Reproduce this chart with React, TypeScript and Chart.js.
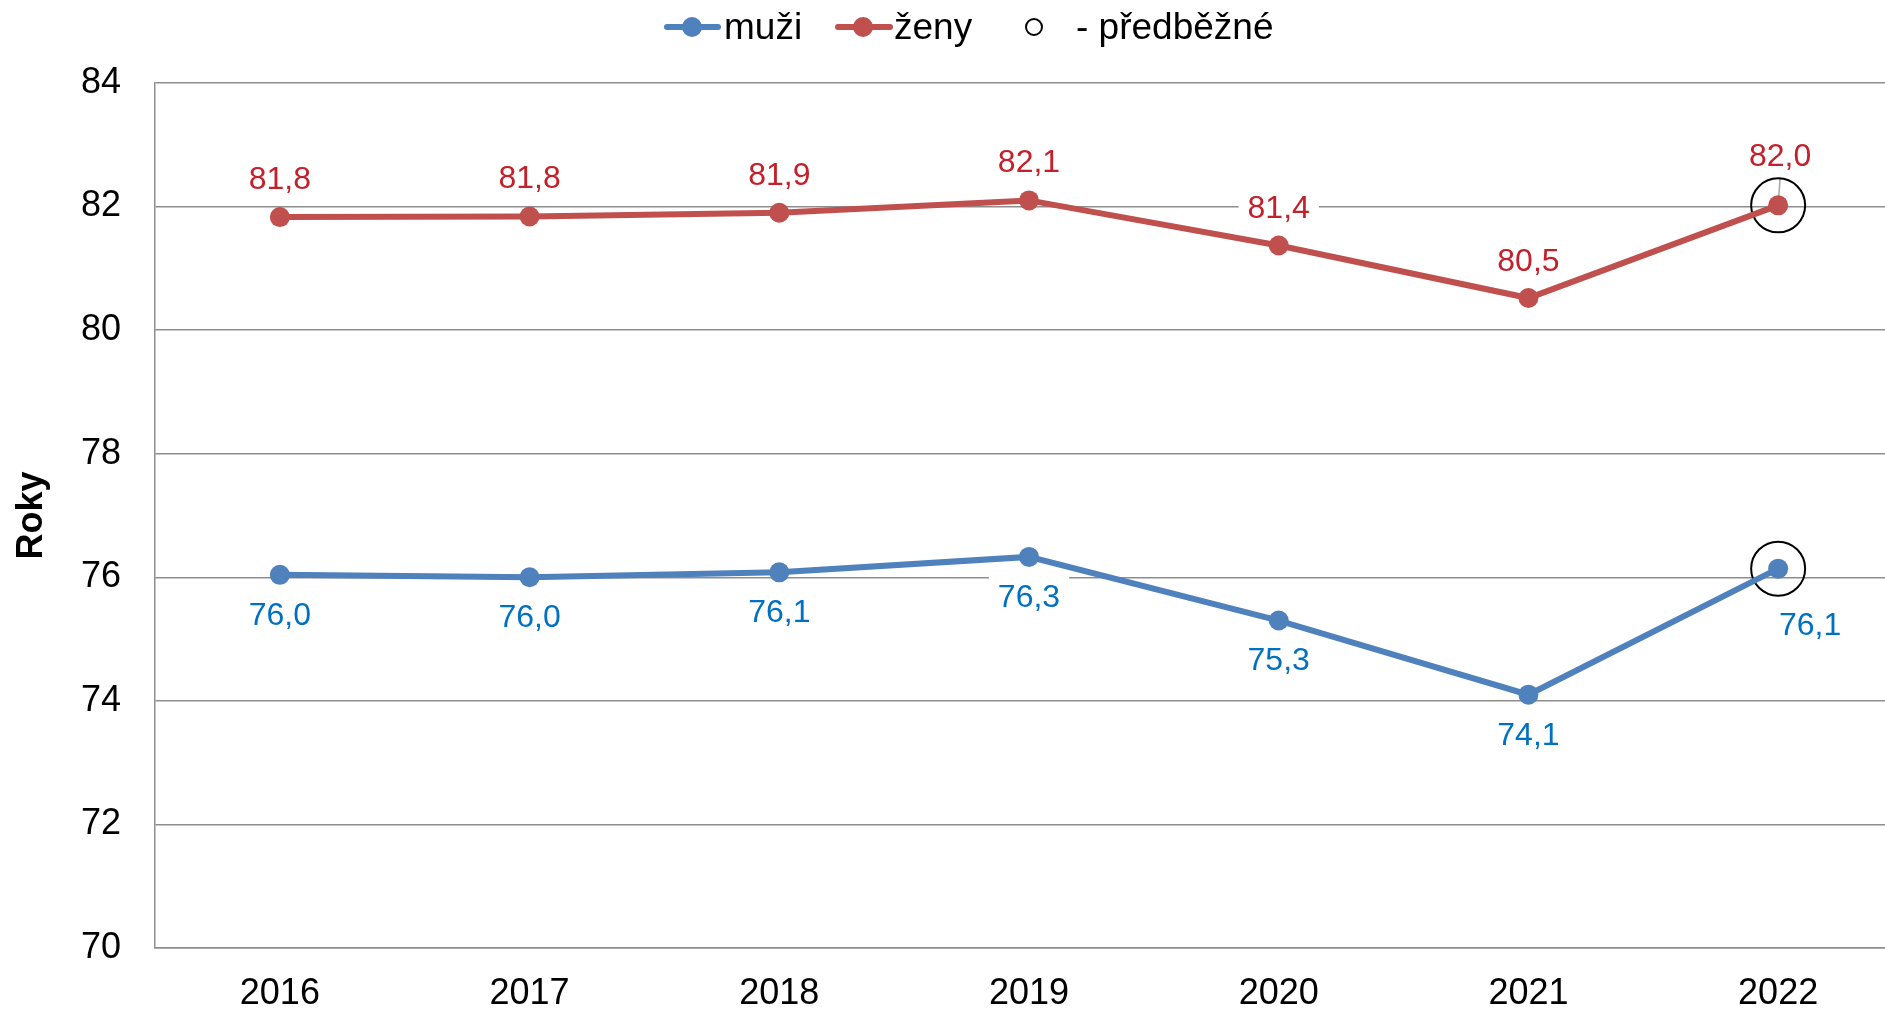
import React, { useEffect, useRef } from 'react';
import { Chart, registerables } from 'chart.js';

Chart.register(...registerables);

// ---- data ----
const years = ['2016', '2017', '2018', '2019', '2020', '2021', '2022'];
const muzi = [76.04, 76.0, 76.08, 76.33, 75.3, 74.1, 76.14];
const zeny = [81.83, 81.84, 81.9, 82.1, 81.37, 80.52, 82.02];
const seriesNames = ['muži', 'ženy'];
const prelimLabel = '- předběžné';
const prelimIndex = 6;
const yMin = 70;
const yMax = 84;
const yStep = 2;
const axisTitle = 'Roky';

// ---- styling ----
const FONT = '"Liberation Sans", Arial, Helvetica, sans-serif';
const BLUE = '#4F81BD';
const RED = '#C0504D';
const BLUE_LABEL = '#0070C0';
const RED_LABEL = '#C3202B';
const GRID = '#8E8E8E';
const CANVAS_W = 1903;
const CANVAS_H = 1009;

// label offsets [dx, dy] per series per point (presentation)
const labelOffsets: number[][][] = [
  [[0, 40], [0, 40], [0, 40], [0, 40], [0, 40], [0, 40], [32, 57]],
  [[0, -38], [0, -38], [0, -38], [0, -38], [0, -37], [0, -37], [2, -49]],
];
const labelColors = [BLUE_LABEL, RED_LABEL];

const fmt = (v: number) => v.toFixed(1).replace('.', ',');

const valueLabelPlugin = {
  id: 'valueLabels',
  beforeDatasetsDraw(chart: any) {
    const ctx = chart.ctx;
    ctx.save();
    ctx.font = `32px ${FONT}`;
    ctx.textAlign = 'center';
    ctx.textBaseline = 'middle';
    [0, 1].forEach((di) => {
      const meta = chart.getDatasetMeta(di);
      const values = chart.data.datasets[di].data as number[];
      meta.data.forEach((pt: any, i: number) => {
        const off = labelOffsets[di][i];
        const x = pt.x + off[0];
        const y = pt.y + off[1];
        const text = fmt(values[i]);
        const w = ctx.measureText(text).width + 18;
        ctx.fillStyle = '#ffffff';
        ctx.fillRect(x - w / 2, y - 23, w, 46);
        if (di === 1 && i === prelimIndex) {
          ctx.strokeStyle = '#A6A6A6';
          ctx.lineWidth = 1.5;
          ctx.beginPath();
          ctx.moveTo(x, y + 21);
          ctx.lineTo(pt.x, pt.y);
          ctx.stroke();
        }
        ctx.fillStyle = labelColors[di];
        ctx.fillText(text, x, y + 1);
      });
    });
    ctx.restore();
  },
};

const legendPlugin = {
  id: 'customLegend',
  afterDraw(chart: any) {
    const ctx = chart.ctx;
    ctx.save();
    const y = 27;
    ctx.font = `37px ${FONT}`;
    ctx.textAlign = 'left';
    ctx.textBaseline = 'middle';
    const items = [
      { color: BLUE, x0: 667, x1: 718, mx: 692, tx: 724, text: seriesNames[0] },
      { color: RED, x0: 838, x1: 890, mx: 863, tx: 894, text: seriesNames[1] },
    ];
    items.forEach((it) => {
      ctx.strokeStyle = it.color;
      ctx.lineWidth = 6;
      ctx.lineCap = 'round';
      ctx.beginPath();
      ctx.moveTo(it.x0, y);
      ctx.lineTo(it.x1, y);
      ctx.stroke();
      ctx.fillStyle = it.color;
      ctx.beginPath();
      ctx.arc(it.mx, y, 10, 0, Math.PI * 2);
      ctx.fill();
      ctx.fillStyle = '#000';
      ctx.fillText(it.text, it.tx, y + 2);
    });
    ctx.strokeStyle = '#000';
    ctx.lineWidth = 2;
    ctx.beginPath();
    ctx.arc(1034, y, 8, 0, Math.PI * 2);
    ctx.stroke();
    ctx.fillStyle = '#000';
    ctx.fillText(prelimLabel, 1076, y + 2);
    ctx.restore();
  },
};

export default function App() {
  const ref = useRef<HTMLCanvasElement | null>(null);

  useEffect(() => {
    const canvas = ref.current;
    if (!canvas) return;
    Chart.defaults.font.family = FONT;
    const prelimMuzi = muzi.map((v, i) => (i === prelimIndex ? v : null));
    const prelimZeny = zeny.map((v, i) => (i === prelimIndex ? v : null));
    const chart = new Chart(canvas, {
      type: 'line',
      data: {
        labels: years,
        datasets: [
          {
            label: seriesNames[0],
            data: muzi,
            borderColor: BLUE,
            backgroundColor: BLUE,
            borderWidth: 6,
            pointRadius: 10,
            pointBorderWidth: 0,
            pointBackgroundColor: BLUE,
            tension: 0,
          },
          {
            label: seriesNames[1],
            data: zeny,
            borderColor: RED,
            backgroundColor: RED,
            borderWidth: 6,
            pointRadius: 10,
            pointBorderWidth: 0,
            pointBackgroundColor: RED,
            tension: 0,
          },
          {
            label: 'prelim-m',
            data: prelimMuzi,
            showLine: false,
            pointRadius: 27,
            pointBorderWidth: 2,
            pointBorderColor: '#000',
            pointBackgroundColor: 'rgba(0,0,0,0)',
            borderColor: '#000',
            backgroundColor: 'rgba(0,0,0,0)',
          },
          {
            label: 'prelim-z',
            data: prelimZeny,
            showLine: false,
            pointRadius: 27,
            pointBorderWidth: 2,
            pointBorderColor: '#000',
            pointBackgroundColor: 'rgba(0,0,0,0)',
            borderColor: '#000',
            backgroundColor: 'rgba(0,0,0,0)',
          },
        ],
      },
      options: {
        responsive: false,
        animation: false,
        events: [],
        layout: { autoPadding: false, padding: { top: 83, left: 0, right: 0, bottom: 0 } },
        plugins: {
          legend: { display: false },
          tooltip: { enabled: false },
        },
        scales: {
          x: {
            type: 'category',
            offset: true,
            grid: { display: false, drawTicks: false },
            border: { display: true, color: GRID, width: 1.5 },
            ticks: {
              color: '#000',
              font: { size: 36, family: FONT },
              padding: 24,
              maxRotation: 0,
              autoSkip: false,
            },
            afterFit: (scale: any) => {
              scale.height = 61;
            },
          },
          y: {
            min: yMin,
            max: yMax,
            grid: { color: GRID, lineWidth: 1.5, drawTicks: false },
            border: { display: true, color: GRID, width: 1.5 },
            ticks: {
              stepSize: yStep,
              color: '#000',
              font: { size: 36, family: FONT },
              padding: 34,
            },
            title: {
              display: true,
              text: axisTitle,
              color: '#000',
              font: { size: 36, weight: 'bold', family: FONT },
              padding: { top: 10, bottom: 0 },
            },
            afterFit: (scale: any) => {
              scale.width = 155;
            },
          },
        },
      },
      plugins: [valueLabelPlugin, legendPlugin],
    });
    return () => chart.destroy();
  }, []);

  return (
    <div
      style={{
        position: 'fixed',
        left: 0,
        top: 0,
        width: 1885,
        height: 1009,
        overflow: 'hidden',
        background: '#fff',
      }}
    >
      <canvas
        ref={ref}
        width={CANVAS_W}
        height={CANVAS_H}
        style={{ display: 'block', width: CANVAS_W, height: CANVAS_H }}
      />
    </div>
  );
}
